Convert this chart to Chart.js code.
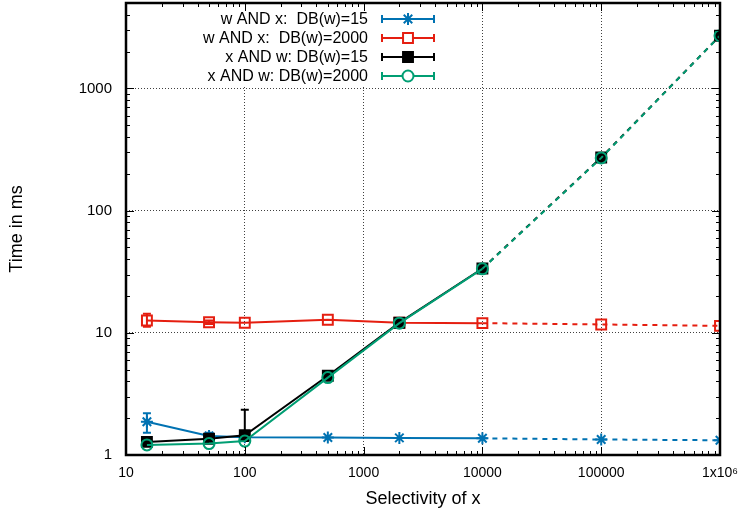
<!DOCTYPE html>
<html>
<head>
<meta charset="utf-8">
<script src="https://cdn.jsdelivr.net/npm/chart.js@4/dist/chart.umd.min.js"></script>
<style>
  html, body { margin: 0; padding: 0; background: #fff; }
  #wrap { width: 741px; height: 516px; position: relative; }
</style>
</head>
<body>
<div id="wrap"><canvas id="timeChart"></canvas></div>
<script>
// data
const selectivity = [15, 50, 100, 500, 2000, 10000, 100000, 1000000];
const wxDb15   = [1.87, 1.43, 1.40, 1.39, 1.38, 1.37, 1.34, 1.32];
const wxDb2000 = [12.6, 12.2, 12.1, 12.8, 12.1, 12.0, 11.7, 11.4];
const xwDb15   = [1.28, 1.36, 1.45, 4.45, 12.1, 33.6, 272, 2700];
const xwDb2000 = [1.21, 1.24, 1.30, 4.3, 12.0, 33.4, 270, 2700];

// error bars [low, high], null = none drawn
const wxDb15Err   = [[1.52, 2.2], [1.36, 1.52], null, null, null, null, null, null];
const wxDb2000Err = [[11.2, 14.3], [11.8, 12.6], null, null, null, null, null, null];
const xwDb15Err   = [[1.22, 1.34], null, [1.3, 2.35], null, null, null, null, null];
const xwDb2000Err = [null, null, null, null, null, null, null, null];

const xTicks = [10, 100, 1000, 10000, 100000, 1000000];
const xTickLabels = ['10', '100', '1000', '10000', '100000', '1x10\u2076'];
const yTicks = [1, 10, 100, 1000];
const yTickLabels = ['1', '10', '100', '1000'];

const seriesLabels = ['w AND x:  DB(w)=15', 'w AND x:  DB(w)=2000', 'x AND w: DB(w)=15', 'x AND w: DB(w)=2000'];
const FONT = "'Liberation Sans', Arial, Helvetica, sans-serif";

const pts = (ys) => ys.map((y, i) => ({ x: selectivity[i], y: y }));
const dashAfter = (ctx) => ctx.p0.parsed.x >= 10000 ? [5, 5] : undefined;

function makeSet(label, ys, err, color, style, fill, radius, order) {
  return {
    label: label,
    data: pts(ys),
    errors: err,
    borderColor: color,
    backgroundColor: fill ? color : 'rgba(0,0,0,0)',
    pointBorderColor: color,
    pointBackgroundColor: fill ? color : 'rgba(0,0,0,0)',
    pointStyle: style,
    pointRadius: radius,
    pointBorderWidth: 2,
    borderWidth: 2,
    tension: 0,
    order: order,
    segment: { borderDash: dashAfter }
  };
}

// key box area (blanks the grid behind the key)
const keyBox = { left: 200, top: 5, right: 442, bottom: 85 };

// error bars, frame with inner ticks, gnuplot style key
const gnuPlugin = {
  id: 'gnu',
  beforeDatasetsDraw(chart) {
    const ctx = chart.ctx;
    ctx.save();
    ctx.fillStyle = '#fff';
    ctx.fillRect(keyBox.left, keyBox.top, keyBox.right - keyBox.left, keyBox.bottom - keyBox.top);
    ctx.restore();
  },
  afterDatasetDraw(chart, args) {
    const ds = chart.data.datasets[args.index];
    if (!ds.errors) return;
    const ctx = chart.ctx, xs = chart.scales.x, ys = chart.scales.y;
    ctx.save();
    ctx.strokeStyle = ds.borderColor;
    ctx.lineWidth = 2;
    ds.errors.forEach((e, i) => {
      if (!e) return;
      const px = xs.getPixelForValue(ds.data[i].x);
      const lo = ys.getPixelForValue(e[0]);
      const hi = ys.getPixelForValue(e[1]);
      ctx.beginPath();
      ctx.moveTo(px, lo); ctx.lineTo(px, hi);
      ctx.moveTo(px - 4, lo); ctx.lineTo(px + 4, lo);
      ctx.moveTo(px - 4, hi); ctx.lineTo(px + 4, hi);
      ctx.stroke();
    });
    ctx.restore();
  },
  afterDraw(chart) {
    const ctx = chart.ctx, a = chart.chartArea;
    const xs = chart.scales.x, ys = chart.scales.y;
    ctx.save();
    ctx.strokeStyle = '#000';
    ctx.lineWidth = 1;
    ctx.beginPath();
    for (let d = 10; d < 1e6; d *= 10) {
      for (let k = 1; k <= 9; k++) {
        const v = d * k;
        if (v > 1e6) break;
        const px = Math.round(xs.getPixelForValue(v)) + 0.5;
        const len = k === 1 ? 8 : 4;
        ctx.moveTo(px, a.bottom); ctx.lineTo(px, a.bottom - len);
        ctx.moveTo(px, a.top); ctx.lineTo(px, a.top + len);
      }
    }
    for (let d = 1; d < 10000; d *= 10) {
      for (let k = 1; k <= 9; k++) {
        const v = d * k;
        if (v > ys.max) break;
        const py = Math.round(ys.getPixelForValue(v)) + 0.5;
        const len = k === 1 ? 8 : 4;
        ctx.moveTo(a.left, py); ctx.lineTo(a.left + len, py);
        ctx.moveTo(a.right, py); ctx.lineTo(a.right - len, py);
      }
    }
    ctx.stroke();
    ctx.lineWidth = 2.5;
    ctx.strokeRect(a.left, a.top, a.right - a.left, a.bottom - a.top);

    // key
    const textRight = 368, lineL = 382, lineR = 434, markX = 408;
    const rowY = [19, 38, 57, 76];
    ctx.font = '16px ' + FONT;
    ctx.textAlign = 'right';
    ctx.textBaseline = 'middle';
    chart.data.datasets.forEach((ds, i) => {
      const y = rowY[i];
      ctx.fillStyle = '#000';
      ctx.fillText(ds.label, textRight, y + 1);
      ctx.strokeStyle = ds.borderColor;
      ctx.lineWidth = 2;
      ctx.beginPath();
      ctx.moveTo(lineL, y); ctx.lineTo(lineR, y);
      ctx.moveTo(lineL, y - 4); ctx.lineTo(lineL, y + 4);
      ctx.moveTo(lineR, y - 4); ctx.lineTo(lineR, y + 4);
      ctx.stroke();
      ctx.fillStyle = ds.pointBackgroundColor === 'rgba(0,0,0,0)' ? '#fff' : ds.pointBackgroundColor;
      ctx.strokeStyle = ds.pointBorderColor;
      Chart.helpers.drawPoint(ctx, {
        pointStyle: ds.pointStyle, radius: ds.pointRadius, rotation: 0, borderWidth: 2
      }, markX, y);
    });
    ctx.restore();
  }
};

const ctxEl = document.getElementById('timeChart').getContext('2d');
const timeChart = new Chart(ctxEl, {
  type: 'line',
  data: {
    datasets: [
      makeSet(seriesLabels[0], wxDb15, wxDb15Err, '#0072b2', 'star', false, 6, 4),
      makeSet(seriesLabels[1], wxDb2000, wxDb2000Err, '#e51e10', 'rect', false, 7, 3),
      makeSet(seriesLabels[2], xwDb15, xwDb15Err, '#000000', 'rect', true, 7, 2),
      makeSet(seriesLabels[3], xwDb2000, xwDb2000Err, '#009e73', 'circle', false, 5.5, 1)
    ]
  },
  options: {
    responsive: true,
    maintainAspectRatio: false,
    animation: false,
    layout: { autoPadding: false, padding: { top: 3, right: 21, left: 0, bottom: 0 } },
    plugins: { legend: { display: false }, tooltip: { enabled: false } },
    scales: {
      x: {
        type: 'logarithmic',
        min: 10, max: 1000000,
        afterBuildTicks: (s) => { s.ticks = xTicks.map(v => ({ value: v })); },
        afterFit: (s) => { s.height = 61; s.paddingLeft = 0; s.paddingRight = 0; },
        ticks: {
          autoSkip: false, maxRotation: 0, padding: 10,
          color: '#000', font: { family: FONT, size: 14 },
          callback: (v) => xTickLabels[xTicks.indexOf(v)]
        },
        grid: { color: 'rgba(0,0,0,0.75)', lineWidth: 1, drawTicks: false },
        border: { display: false, dash: [1, 2] },
        title: {
          display: true, text: 'Selectivity of x', color: '#000',
          font: { family: FONT, size: 18 }, padding: { top: 0, bottom: 6 }
        }
      },
      y: {
        type: 'logarithmic',
        min: 1, max: 5000,
        afterBuildTicks: (s) => { s.ticks = yTicks.map(v => ({ value: v })); },
        afterFit: (s) => { s.width = 126; s.paddingTop = 0; s.paddingBottom = 0; },
        ticks: {
          autoSkip: false, padding: 14,
          color: '#000', font: { family: FONT, size: 15 },
          callback: (v) => yTickLabels[yTicks.indexOf(v)]
        },
        grid: { color: 'rgba(0,0,0,0.75)', lineWidth: 1, drawTicks: false },
        border: { display: false, dash: [1, 2] },
        title: {
          display: true, text: 'Time in ms', color: '#000',
          font: { family: FONT, size: 18 }, padding: { top: 6, bottom: 0 }
        }
      }
    }
  },
  plugins: [gnuPlugin]
});
</script>
</body>
</html>
